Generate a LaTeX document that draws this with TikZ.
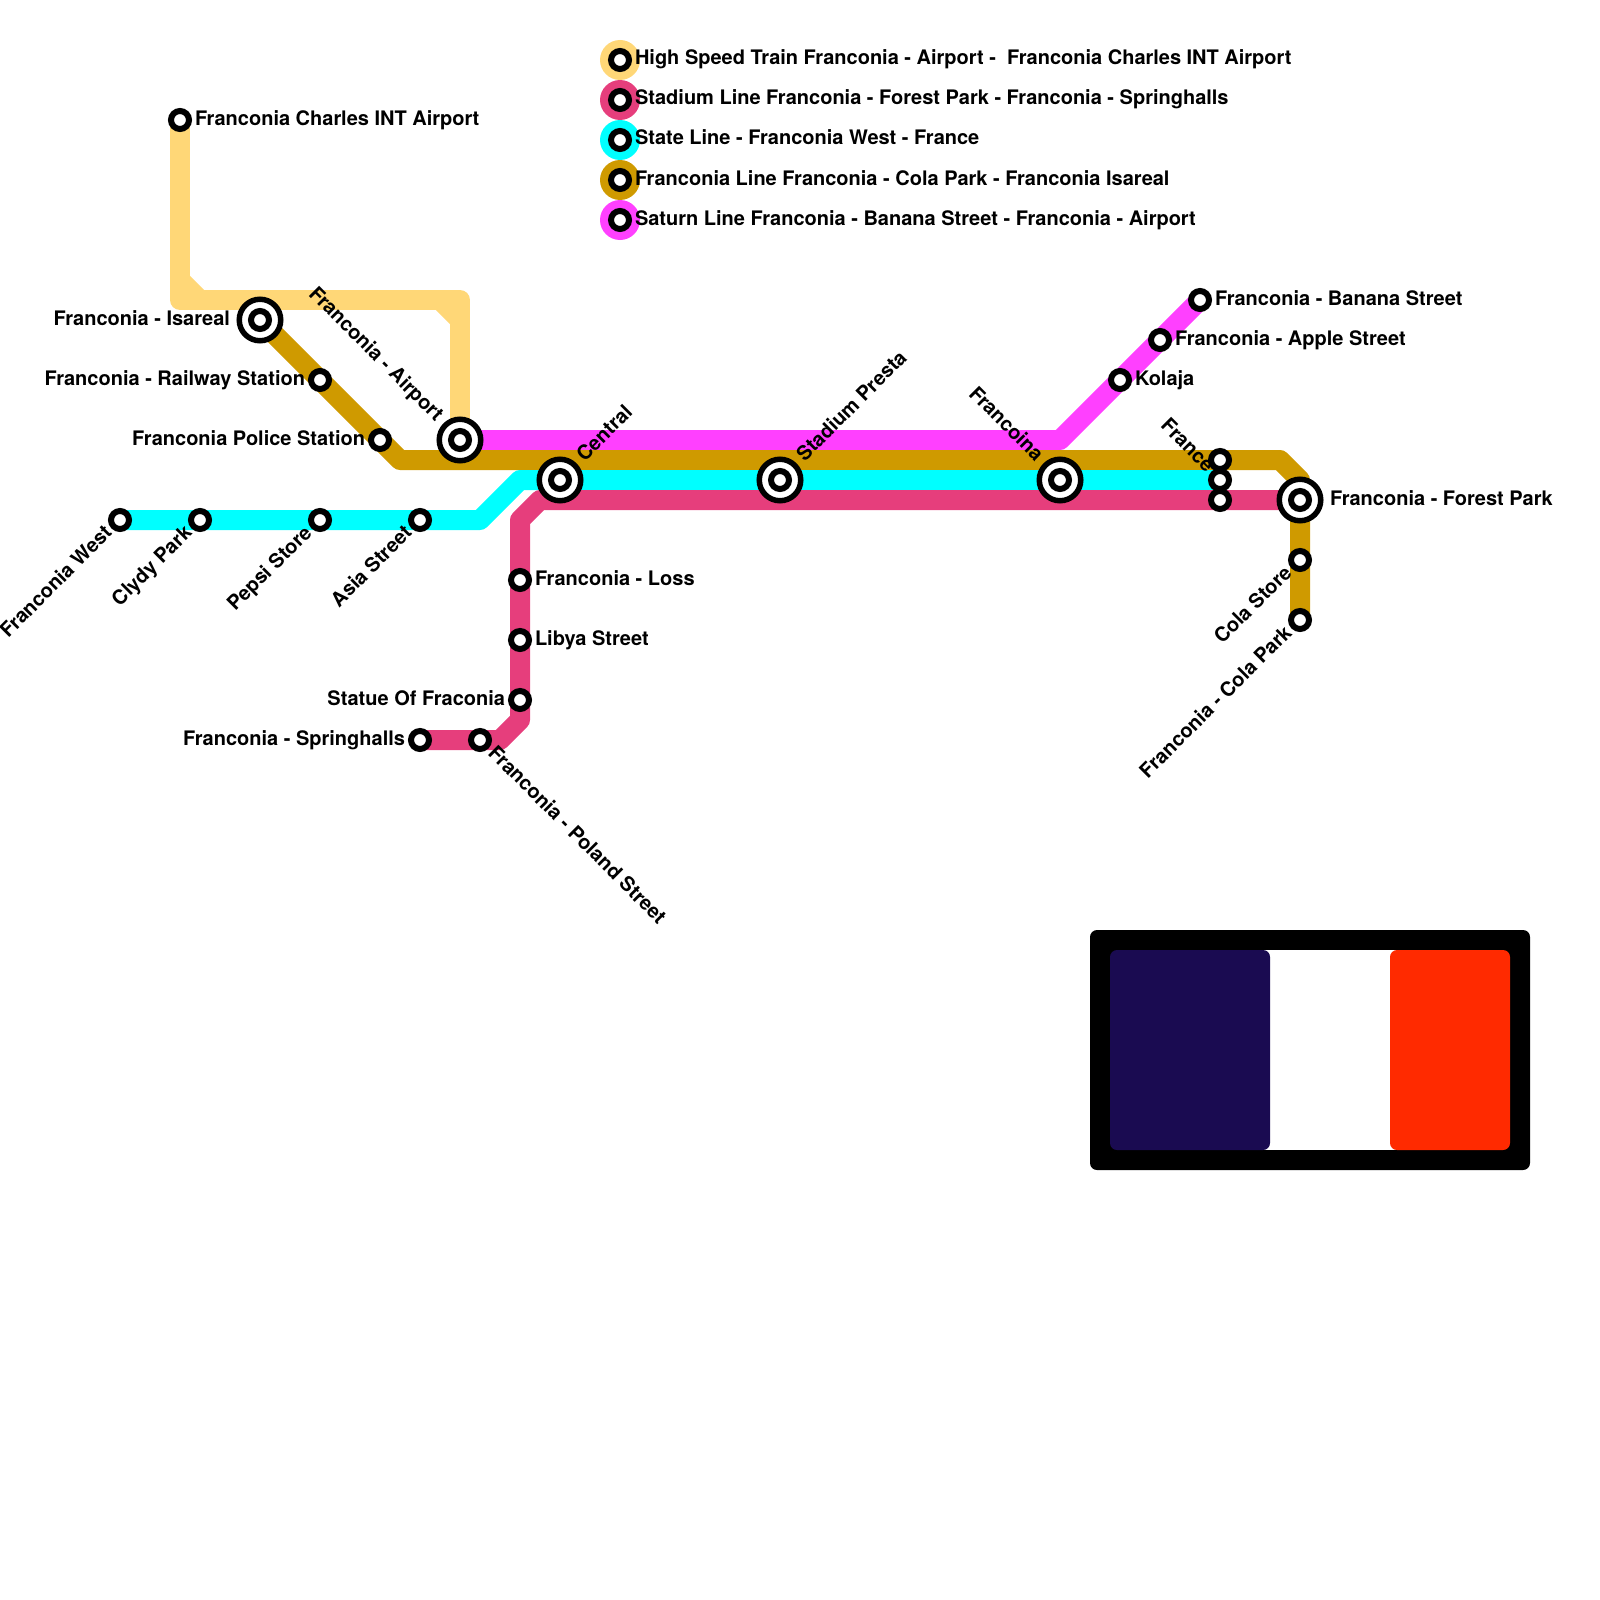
\documentclass[tikz,border=0pt]{standalone}
\usepackage{xcolor}
\usepackage{fontspec}
\setmainfont{TeX Gyre Heros}
\usepackage{tikz}
\usetikzlibrary{positioning, backgrounds}

\definecolor{hsryellow}{HTML}{FFD777}
\definecolor{stadiumpink}{HTML}{E63E7C}
\definecolor{statecyan}{HTML}{00FFFF}
\definecolor{frangold}{HTML}{CF9A00}
\definecolor{saturnpink}{HTML}{FF40FF}
\definecolor{flagnavy}{HTML}{1A0B51}
\definecolor{flagred}{HTML}{FF2A00}

\begin{document}
\begin{tikzpicture}[x=1pt, y=-1pt,
  station/.style={circle, draw=black, line width=6pt, fill=white, minimum size=18pt, inner sep=0pt, outer sep=0pt},
  hub/.style={circle, draw=black, line width=5.5pt, fill=white, minimum size=41.5pt, inner sep=0pt, outer sep=0pt},
  legenddot/.style={circle, minimum size=40pt, inner sep=0pt, outer sep=0pt},
  lbl/.style={inner sep=0pt, outer sep=0pt, font=\fontsize{20}{24}\selectfont\bfseries},
  lble/.style={anchor=base west, xshift=#1, yshift=-5pt},
  lble/.default=15pt,
  lblw/.style={anchor=base east, xshift=-#1, yshift=-5pt},
  lblw/.default=15pt,
  metro/.style={line width=20pt, line join=round},
  flagpart/.style={rounded corners=7pt, inner sep=0pt, outer sep=0pt}]

  \useasboundingbox (0, 0) rectangle (1600, 1600);

  % legend
  \node[legenddot, fill=hsryellow] (leg-hsr) at (620, 60) {};
  \node[legenddot, fill=stadiumpink] (leg-stadium) at (620, 100) {};
  \node[legenddot, fill=statecyan] (leg-state) at (620, 140) {};
  \node[legenddot, fill=frangold] (leg-fran) at (620, 180) {};
  \node[legenddot, fill=saturnpink] (leg-saturn) at (620, 220) {};
  \node[station] (legs-hsr) at (leg-hsr.center) {};
  \node[station] (legs-stadium) at (leg-stadium.center) {};
  \node[station] (legs-state) at (leg-state.center) {};
  \node[station] (legs-fran) at (leg-fran.center) {};
  \node[station] (legs-saturn) at (leg-saturn.center) {};
  \node[lbl, lble] (t-leg-hsr) at (leg-hsr) {High Speed Train Franconia - Airport - \ Franconia Charles INT Airport};
  \node[lbl, lble] (t-leg-stadium) at (leg-stadium) {Stadium Line Franconia - Forest Park - Franconia - Springhalls};
  \node[lbl, lble] (t-leg-state) at (leg-state) {State Line - Franconia West - France};
  \node[lbl, lble] (t-leg-fran) at (leg-fran) {Franconia Line Franconia - Cola Park - Franconia Isareal};
  \node[lbl, lble] (t-leg-saturn) at (leg-saturn) {Saturn Line Franconia - Banana Street - Franconia - Airport};

  % interchanges
  \node[hub] (isareal) at (260, 320) {};
  \node[hub] (airport) at (460, 440) {};
  \node[hub] (central) at (560, 480) {};
  \node[hub] (presta) at (780, 480) {};
  \node[hub] (francoina) at (1060, 480) {};
  \node[hub] (forest) at (1300, 500) {};
  \node[station] (isareal-in) at (isareal.center) {};
  \node[station] (airport-in) at (airport.center) {};
  \node[station] (central-in) at (central.center) {};
  \node[station] (presta-in) at (presta.center) {};
  \node[station] (francoina-in) at (francoina.center) {};
  \node[station] (forest-in) at (forest.center) {};

  % stations
  \node[station] (charles) at (180, 120) {};
  \node[station] (railway) at (320, 380) {};
  \node[station] (police) at (380, 440) {};
  \node[station] (west) at (120, 520) {};
  \node[station] (clydy) at (200, 520) {};
  \node[station] (pepsi) at (320, 520) {};
  \node[station] (asia) at (420, 520) {};
  \node[station] (loss) at (520, 580) {};
  \node[station] (libya) at (520, 640) {};
  \node[station] (statue) at (520, 700) {};
  \node[station] (poland) at (480, 740) {};
  \node[station] (springhalls) at (420, 740) {};
  \node[station] (banana) at (1200, 300) {};
  \node[station] (apple) at (1160, 340) {};
  \node[station] (kolaja) at (1120, 380) {};
  \node[station] (france-g) at (1220, 460) {};
  \node[station] (france-c) at (1220, 480) {};
  \node[station] (france-p) at (1220, 500) {};
  \node[station] (cola) at (1300, 560) {};
  \node[station] (colapark) at (1300, 620) {};

  % bends
  \coordinate (y1) at (180, 300);
  \coordinate (y1a) at (180, 280);
  \coordinate (y1b) at (200, 300);
  \coordinate (y2) at (460, 300);
  \coordinate (y2a) at (440, 300);
  \coordinate (y2b) at (460, 320);
  \coordinate (g1) at (400, 460);
  \coordinate (g2) at (1280, 460);
  \coordinate (g3) at (1300, 480);
  \coordinate (c1) at (480, 520);
  \coordinate (c2) at (520, 480);
  \coordinate (p1) at (500, 740);
  \coordinate (p2) at (520, 720);
  \coordinate (p3) at (520, 520);
  \coordinate (p4) at (540, 500);
  \coordinate (s1) at (1060, 440);

  \begin{scope}[on background layer]
    \draw[metro, hsryellow] (charles.center) -- (y1) -- (y2) -- (airport.center);
    \draw[metro, hsryellow] (y1a) -- (y1b);
    \draw[metro, hsryellow] (y2a) -- (y2b);
    \draw[metro, saturnpink] (airport.center) -- (s1) -- (banana.center);
    \draw[metro, frangold] (isareal.center) -- (g1) -- (g2) -- (g3) -- (colapark.center);
    \draw[metro, statecyan] (west.center) -- (c1) -- (c2) -- (france-c.center);
    \draw[metro, stadiumpink] (springhalls.center) -- (p1) -- (p2) -- (p3) -- (p4) -- (forest.center);
  \end{scope}

  % labels
  \node[lbl, lble] (t-charles) at (charles) {Franconia Charles INT Airport};
  \node[lbl, lblw=30pt] (t-isareal) at (isareal) {Franconia - Isareal};
  \node[lbl, lblw] (t-railway) at (railway) {Franconia - Railway Station};
  \node[lbl, lblw] (t-police) at (police) {Franconia Police Station};
  \node[lbl, rotate=-45, lblw=30pt] (t-airport) at (airport) {Franconia - Airport};
  \node[lbl, rotate=45, lble=30pt] (t-central) at (central) {Central};
  \node[lbl, rotate=45, lble=30pt] (t-presta) at (presta) {Stadium Presta};
  \node[lbl, rotate=-45, lblw=30pt] (t-francoina) at (francoina) {Francoina};
  \node[lbl, rotate=-45, lblw] (t-france) at (france-c) {France};
  \node[lbl, lble=30pt] (t-forest) at (forest) {Franconia - Forest Park};
  \node[lbl, rotate=45, lblw] (t-west) at (west) {Franconia West};
  \node[lbl, rotate=45, lblw] (t-clydy) at (clydy) {Clydy Park};
  \node[lbl, rotate=45, lblw] (t-pepsi) at (pepsi) {Pepsi Store};
  \node[lbl, rotate=45, lblw] (t-asia) at (asia) {Asia Street};
  \node[lbl, lble] (t-loss) at (loss) {Franconia - Loss};
  \node[lbl, lble] (t-libya) at (libya) {Libya Street};
  \node[lbl, lblw] (t-statue) at (statue) {Statue Of Fraconia};
  \node[lbl, lblw] (t-springhalls) at (springhalls) {Franconia - Springhalls};
  \node[lbl, rotate=-45, lble] (t-poland) at (poland) {Franconia - Poland Street};
  \node[lbl, lble] (t-banana) at (banana) {Franconia - Banana Street};
  \node[lbl, lble] (t-apple) at (apple) {Franconia - Apple Street};
  \node[lbl, lble] (t-kolaja) at (kolaja) {Kolaja};
  \node[lbl, rotate=45, lblw] (t-cola) at (cola) {Cola Store};
  \node[lbl, rotate=45, lblw] (t-colapark) at (colapark) {Franconia - Cola Park};

  % flag
  \node[flagpart, fill=black, minimum width=440pt, minimum height=240pt] (flag) at (1310, 1050) {};
  \node[inner sep=0pt, outer sep=0pt, fill=white, minimum width=140pt, minimum height=200pt] (flag-white) at (1330, 1050) {};
  \node[flagpart, fill=flagnavy, minimum width=160pt, minimum height=200pt] (flag-navy) at (1190, 1050) {};
  \node[flagpart, fill=flagred, minimum width=120pt, minimum height=200pt] (flag-red) at (1450, 1050) {};

\end{tikzpicture}
\end{document}
